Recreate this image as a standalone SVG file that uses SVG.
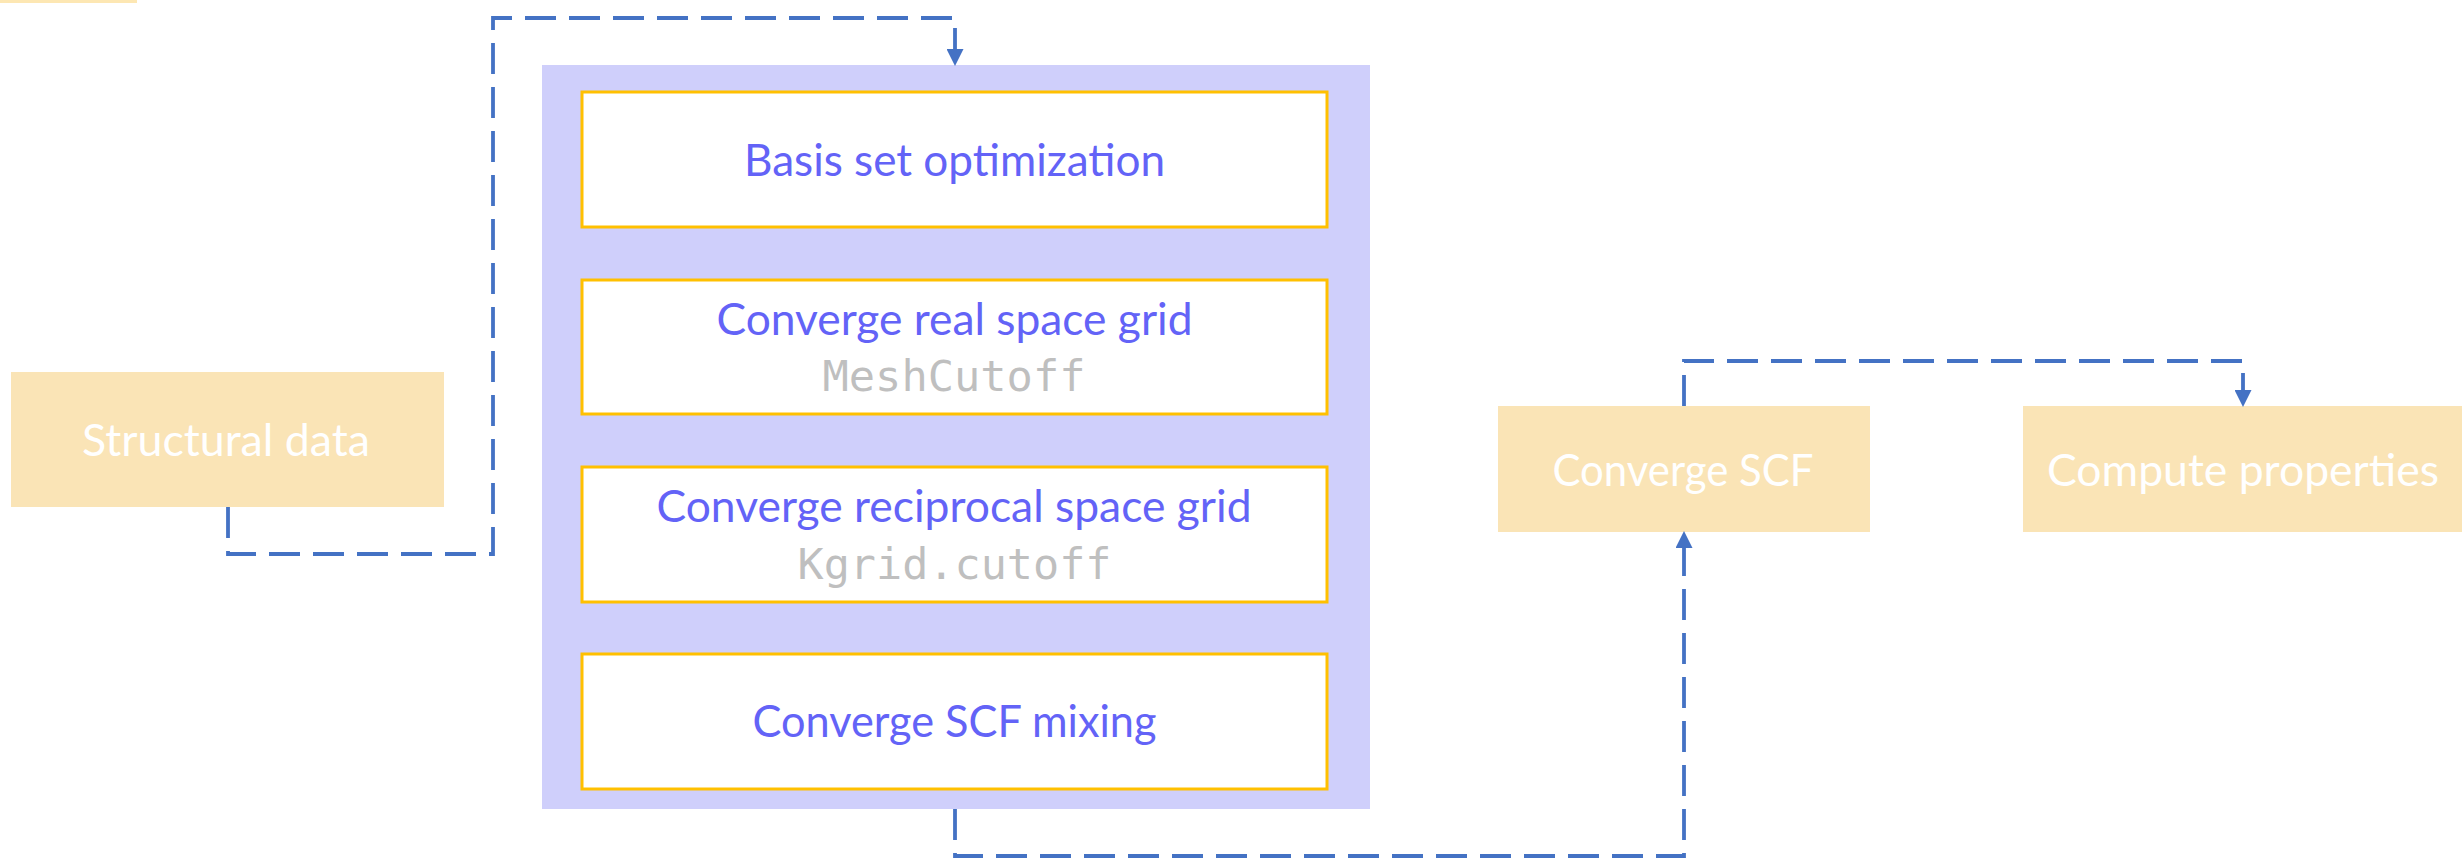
<svg xmlns="http://www.w3.org/2000/svg" width="2463" height="859" viewBox="0 0 2463 859">
<style>
.bg{fill:#FFFFFF}
.ybox{fill:#FAE4B6}
.lav{fill:#CFCFFB}
.inner{fill:#FFFFFF;stroke:#FFC000;stroke-width:3}
.wt{font-family:Lato,"Open Sans",sans-serif;font-size:44px;fill:#FFFFFF;text-anchor:middle}
.bt{font-family:Lato,"Open Sans",sans-serif;font-size:44px;fill:#6363F7;text-anchor:middle}
.mono{font-family:"DejaVu Sans Mono","Liberation Mono",monospace;font-size:43px;fill:#BFBFBF;text-anchor:middle}
.conn{fill:none;stroke:#4472C4;stroke-width:3.8;stroke-dasharray:31 13}
</style>
<defs>
<marker id="arr" markerUnits="userSpaceOnUse" markerWidth="18" markerHeight="17" viewBox="0 0 16 16" refX="0" refY="8" orient="auto">
<path d="M0,0 L16,8 L0,16 z" fill="#4472C4"/>
</marker>
</defs>
<rect class="bg" x="0" y="0" width="2463" height="859"/>
<rect x="0" y="0" width="137" height="3" fill="#FDE7B3"/>

<g id="node-structural-data">
<rect class="ybox" x="11" y="372" width="433" height="135"/>
<text class="wt" x="226" y="456" textLength="288" lengthAdjust="spacingAndGlyphs">Structural data</text>
</g>

<g id="node-convergence-group">
<rect class="lav" x="542" y="65" width="828" height="744"/>
</g>

<g id="node-basis-set">
<rect class="inner" x="582" y="92" width="745" height="135"/>
<text class="bt" x="954.5" y="176" textLength="421" lengthAdjust="spacingAndGlyphs">Basis set optimization</text>
</g>

<g id="node-real-space">
<rect class="inner" x="582" y="280" width="745" height="134"/>
<text class="bt" x="954.5" y="335" textLength="476" lengthAdjust="spacingAndGlyphs">Converge real space grid</text>
<text class="mono" x="954" y="391" textLength="263" lengthAdjust="spacingAndGlyphs">MeshCutoff</text>
</g>

<g id="node-reciprocal-space">
<rect class="inner" x="582" y="467" width="745" height="135"/>
<text class="bt" x="954" y="522" textLength="595" lengthAdjust="spacingAndGlyphs">Converge reciprocal space grid</text>
<text class="mono" x="954.5" y="579" textLength="314" lengthAdjust="spacingAndGlyphs">Kgrid.cutoff</text>
</g>

<g id="node-scf-mixing">
<rect class="inner" x="582" y="654" width="745" height="135"/>
<text class="bt" x="954.5" y="737" textLength="404" lengthAdjust="spacingAndGlyphs">Converge SCF mixing</text>
</g>

<g id="node-converge-scf">
<rect class="ybox" x="1498" y="406" width="372" height="126"/>
<text class="wt" x="1683" y="486" textLength="261" lengthAdjust="spacingAndGlyphs">Converge SCF</text>
</g>

<g id="node-compute-properties">
<rect class="ybox" x="2023" y="406" width="439" height="126"/>
<text class="wt" x="2243" y="486" textLength="392" lengthAdjust="spacingAndGlyphs">Compute properties</text>
</g>

<g id="connectors">
<path class="conn" d="M228,507 V554 H493 V18 H955 V49" marker-end="url(#arr)"/>
<path class="conn" d="M955,809 V856 H1684 V548" marker-end="url(#arr)"/>
<path class="conn" d="M1684,406 V361 H2243 V390" marker-end="url(#arr)"/>
</g>
</svg>
